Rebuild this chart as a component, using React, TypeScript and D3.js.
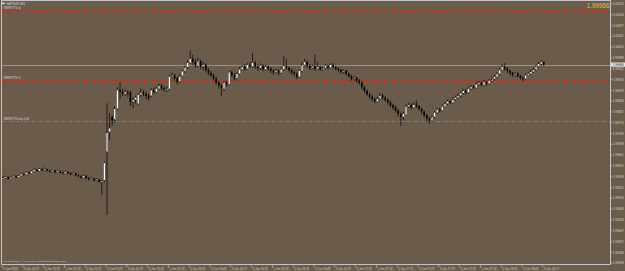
import React from "react";
import * as d3 from "d3";

const symbol = "GBPNZD,M1";
const copyright = "TM MetaTrader 4, \u00a9 2001-2014, MetaQuotes Software Corp.";
const bidPrice = 1.99966;
const orderLabels = ["#88987774 tp", "#88987774 sl", "#88987774 buy 0.02"];
const orderPrices = [2.0015, 1.99913, 1.99776];
const orderTypes = ["tp", "sl", "open"];

const priceLabels = [
  2.0017, 2.00134, 2.00097, 2.00061, 2.00025, 1.99988, 1.99952, 1.99916, 1.99879, 1.99843,
  1.99807, 1.9977, 1.99734, 1.99698, 1.99661, 1.99625, 1.99589, 1.99552, 1.99516, 1.9948,
  1.99443, 1.99407, 1.99371, 1.99334, 1.99298,
];

const timeLabels = [
  "5 Jun 2014", "5 Jun 14:57", "5 Jun 15:05", "5 Jun 15:13", "5 Jun 15:21", "5 Jun 15:29",
  "5 Jun 15:37", "5 Jun 15:45", "5 Jun 15:53", "5 Jun 16:01", "5 Jun 16:09", "5 Jun 16:17",
  "5 Jun 16:25", "5 Jun 16:33", "5 Jun 16:41", "5 Jun 16:49", "5 Jun 16:57", "5 Jun 17:05",
  "5 Jun 17:13", "5 Jun 17:21", "5 Jun 17:29", "5 Jun 17:37", "5 Jun 17:45", "5 Jun 17:53",
  "5 Jun 18:01", "5 Jun 18:09", "5 Jun 18:17",
];
const barsPerTimeLabel = 8;

const opens = [
  1.99582,1.99585,1.99588,1.99582,1.99586,1.99590,1.99587,1.99592,1.99598,1.99596,
  1.99603,1.99600,1.99607,1.99612,1.99608,1.99615,1.99611,1.99614,1.99609,1.99606,
  1.99610,1.99604,1.99608,1.99603,1.99600,1.99605,1.99601,1.99597,1.99600,1.99594,
  1.99590,1.99586,1.99592,1.99584,1.99580,1.99583,1.99577,1.99580,1.99572,1.99577,
  1.99672,1.99740,1.99790,1.99780,1.99818,1.99880,1.99875,1.99868,1.99874,1.99872,
  1.99840,1.99848,1.99835,1.99865,1.99872,1.99866,1.99860,1.99862,1.99880,1.99874,
  1.99885,1.99895,1.99886,1.99882,1.99884,1.99926,1.99930,1.99920,1.99910,1.99928,
  1.99944,1.99958,1.99972,1.99985,1.99975,1.99962,1.99978,1.99960,1.99965,1.99948,
  1.99938,1.99930,1.99918,1.99905,1.99896,1.99885,1.99905,1.99900,1.99940,1.99930,
  1.99920,1.99935,1.99950,1.99958,1.99952,1.99965,1.99960,1.99972,1.99960,1.99955,
  1.99962,1.99950,1.99958,1.99952,1.99945,1.99940,1.99946,1.99938,1.99950,1.99962,
  1.99955,1.99948,1.99940,1.99935,1.99925,1.99945,1.99965,1.99975,1.99962,1.99955,
  1.99960,1.99952,1.99958,1.99950,1.99955,1.99962,1.99956,1.99965,1.99958,1.99952,
  1.99948,1.99942,1.99945,1.99935,1.99928,1.99918,1.99922,1.99912,1.99905,1.99890,
  1.99878,1.99866,1.99858,1.99850,1.99842,1.99850,1.99862,1.99855,1.99848,1.99840,
  1.99830,1.99822,1.99812,1.99800,1.99790,1.99798,1.99825,1.99830,1.99822,1.99832,
  1.99826,1.99818,1.99808,1.99795,1.99785,1.99778,1.99790,1.99805,1.99815,1.99812,
  1.99825,1.99835,1.99842,1.99838,1.99850,1.99855,1.99862,1.99870,1.99878,1.99872,
  1.99885,1.99892,1.99888,1.99900,1.99905,1.99898,1.99908,1.99902,1.99912,1.99918,
  1.99925,1.99935,1.99948,1.99958,1.99952,1.99945,1.99938,1.99932,1.99935,1.99928,
  1.99922,1.99918,1.99930,1.99935,1.99942,1.99948,1.99960,1.99968,1.99975,
];

const highs = [
  1.99590,1.99592,1.99590,1.99589,1.99594,1.99593,1.99596,1.99602,1.99601,1.99607,
  1.99606,1.99610,1.99617,1.99615,1.99619,1.99618,1.99620,1.99616,1.99612,1.99614,
  1.99612,1.99611,1.99610,1.99606,1.99609,1.99607,1.99604,1.99604,1.99602,1.99596,
  1.99593,1.99596,1.99594,1.99587,1.99588,1.99585,1.99584,1.99582,1.99579,1.99640,
  1.99836,1.99803,1.99795,1.99825,1.99890,1.99907,1.99885,1.99882,1.99880,1.99878,
  1.99855,1.99862,1.99870,1.99885,1.99880,1.99875,1.99868,1.99886,1.99888,1.99892,
  1.99902,1.99900,1.99892,1.99893,1.99932,1.99940,1.99935,1.99925,1.99935,1.99950,
  1.99962,1.99980,2.00012,2.00000,1.99985,1.99990,1.99982,1.99975,1.99970,1.99955,
  1.99945,1.99935,1.99925,1.99912,1.99902,1.99910,1.99912,1.99945,1.99948,1.99938,
  1.99940,1.99958,1.99965,1.99968,1.99972,1.99975,2.00005,1.99978,1.99966,1.99970,
  1.99968,1.99966,1.99964,1.99958,1.99950,1.99952,1.99950,1.99958,1.99995,1.99985,
  1.99960,1.99952,1.99946,1.99940,1.99950,1.99975,1.99985,1.99980,1.99968,1.99966,
  2.00000,1.99975,1.99962,1.99960,1.99968,1.99966,1.99972,1.99970,1.99962,1.99956,
  1.99952,1.99950,1.99948,1.99940,1.99932,1.99928,1.99925,1.99918,1.99910,1.99895,
  1.99882,1.99872,1.99865,1.99856,1.99858,1.99870,1.99868,1.99860,1.99852,1.99845,
  1.99835,1.99828,1.99816,1.99805,1.99808,1.99832,1.99838,1.99836,1.99840,1.99845,
  1.99830,1.99822,1.99812,1.99800,1.99790,1.99795,1.99810,1.99820,1.99822,1.99832,
  1.99840,1.99850,1.99848,1.99856,1.99862,1.99868,1.99876,1.99885,1.99884,1.99892,
  1.99898,1.99896,1.99908,1.99912,1.99910,1.99914,1.99912,1.99918,1.99925,1.99932,
  1.99940,1.99955,1.99968,1.99972,1.99958,1.99950,1.99942,1.99940,1.99940,1.99932,
  1.99926,1.99936,1.99940,1.99948,1.99955,1.99965,1.99975,1.99980,1.99978,
];

const lows = [
  1.99579,1.99582,1.99578,1.99579,1.99584,1.99583,1.99585,1.99590,1.99592,1.99594,
  1.99597,1.99598,1.99604,1.99605,1.99606,1.99608,1.99609,1.99606,1.99602,1.99603,
  1.99600,1.99601,1.99599,1.99596,1.99598,1.99597,1.99593,1.99594,1.99590,1.99586,
  1.99582,1.99584,1.99580,1.99576,1.99578,1.99572,1.99574,1.99568,1.99527,1.99570,
  1.99460,1.99712,1.99760,1.99770,1.99812,1.99850,1.99860,1.99862,1.99858,1.99827,
  1.99820,1.99835,1.99830,1.99858,1.99860,1.99850,1.99845,1.99856,1.99868,1.99870,
  1.99880,1.99880,1.99876,1.99874,1.99880,1.99920,1.99912,1.99900,1.99905,1.99925,
  1.99938,1.99952,1.99968,1.99965,1.99955,1.99958,1.99952,1.99948,1.99940,1.99930,
  1.99925,1.99912,1.99898,1.99885,1.99860,1.99878,1.99892,1.99896,1.99925,1.99912,
  1.99915,1.99930,1.99945,1.99946,1.99948,1.99955,1.99955,1.99952,1.99945,1.99948,
  1.99944,1.99946,1.99945,1.99938,1.99932,1.99935,1.99930,1.99935,1.99945,1.99948,
  1.99940,1.99932,1.99925,1.99918,1.99920,1.99940,1.99960,1.99955,1.99948,1.99950,
  1.99946,1.99948,1.99944,1.99945,1.99950,1.99950,1.99952,1.99952,1.99946,1.99942,
  1.99935,1.99936,1.99930,1.99922,1.99912,1.99912,1.99905,1.99898,1.99882,1.99870,
  1.99860,1.99850,1.99842,1.99836,1.99838,1.99846,1.99848,1.99840,1.99832,1.99822,
  1.99815,1.99805,1.99790,1.99760,1.99780,1.99795,1.99820,1.99815,1.99818,1.99820,
  1.99810,1.99800,1.99788,1.99775,1.99766,1.99772,1.99785,1.99800,1.99806,1.99808,
  1.99820,1.99830,1.99832,1.99834,1.99845,1.99850,1.99856,1.99865,1.99866,1.99868,
  1.99880,1.99882,1.99884,1.99895,1.99892,1.99894,1.99896,1.99898,1.99906,1.99912,
  1.99920,1.99930,1.99944,1.99945,1.99938,1.99930,1.99925,1.99926,1.99922,1.99915,
  1.99910,1.99914,1.99926,1.99930,1.99938,1.99944,1.99955,1.99962,1.99962,
];

const closes = [
  1.99585,1.99588,1.99582,1.99586,1.99590,1.99587,1.99592,1.99598,1.99596,1.99603,
  1.99600,1.99607,1.99612,1.99608,1.99615,1.99611,1.99614,1.99609,1.99606,1.99610,
  1.99604,1.99608,1.99603,1.99600,1.99605,1.99601,1.99597,1.99600,1.99594,1.99590,
  1.99586,1.99592,1.99584,1.99580,1.99583,1.99577,1.99580,1.99572,1.99575,1.99635,
  1.99737,1.99752,1.99778,1.99818,1.99880,1.99875,1.99868,1.99874,1.99870,1.99840,
  1.99848,1.99855,1.99865,1.99872,1.99866,1.99860,1.99852,1.99880,1.99874,1.99885,
  1.99895,1.99886,1.99882,1.99886,1.99926,1.99930,1.99920,1.99908,1.99928,1.99944,
  1.99958,1.99972,1.99985,1.99975,1.99962,1.99978,1.99960,1.99965,1.99948,1.99938,
  1.99930,1.99918,1.99905,1.99896,1.99888,1.99905,1.99900,1.99940,1.99930,1.99920,
  1.99935,1.99950,1.99958,1.99952,1.99965,1.99960,1.99972,1.99960,1.99955,1.99962,
  1.99950,1.99958,1.99952,1.99945,1.99940,1.99946,1.99938,1.99950,1.99962,1.99955,
  1.99948,1.99940,1.99935,1.99925,1.99945,1.99965,1.99975,1.99962,1.99955,1.99960,
  1.99952,1.99958,1.99950,1.99955,1.99962,1.99956,1.99965,1.99958,1.99952,1.99948,
  1.99942,1.99945,1.99935,1.99928,1.99918,1.99922,1.99912,1.99905,1.99890,1.99878,
  1.99866,1.99858,1.99850,1.99842,1.99850,1.99862,1.99855,1.99848,1.99840,1.99830,
  1.99822,1.99812,1.99800,1.99790,1.99800,1.99825,1.99830,1.99822,1.99832,1.99826,
  1.99818,1.99808,1.99795,1.99785,1.99778,1.99790,1.99805,1.99815,1.99812,1.99825,
  1.99835,1.99842,1.99838,1.99850,1.99855,1.99862,1.99870,1.99878,1.99872,1.99885,
  1.99892,1.99888,1.99900,1.99905,1.99898,1.99908,1.99902,1.99912,1.99918,1.99925,
  1.99935,1.99948,1.99958,1.99952,1.99945,1.99938,1.99932,1.99935,1.99928,1.99922,
  1.99918,1.99930,1.99935,1.99942,1.99948,1.99960,1.99968,1.99975,1.99966,
];

const W = 625;
const H = 271;
const plotLeft = 1.5;
const plotRight = 610.5;
const plotTop = 0.5;
const plotBottom = 264;
const BG = "#6b5b4a";
const AXIS = "#c4c4c4";
const TEXT = "#d6d6d6";
const FONT = "'Liberation Sans', Arial, sans-serif";

export default function App() {
  const n = closes.length;
  const x = d3.scaleLinear().domain([0, n - 1]).range([3, 543.8]);
  const y = d3.scaleLinear().domain([2.0017, 1.99295]).range([4, 264]);
  const bodyW = 1.6;
  const fmt = d3.format(".5f");

  const lineStyle: Record<string, { color: string; dash: string }> = {
    tp: { color: "#cc2a1e", dash: "3.5,1.5,1,1.5" },
    sl: { color: "#cc2a1e", dash: "3.5,1.5,1,1.5" },
    open: { color: "#5f9a4c", dash: "3.5,1.5,1,1.5" },
  };

  const bidY = Math.round(y(bidPrice)) + 0.5;

  return (
    <svg width={W} height={H} style={{ display: "block" }} fontFamily={FONT}>
      <style>{`body{margin:0;background:${BG}}`}</style>
      <rect x={0} y={0} width={W} height={H} fill={BG} />

      {orderPrices.map((p, i) => {
        const st = lineStyle[orderTypes[i]];
        const yy = Math.round(y(p)) + 0.5;
        return (
          <g key={"ol" + i}>
            <line x1={plotLeft} x2={plotRight} y1={yy} y2={yy} stroke={st.color} strokeWidth={1} strokeDasharray={st.dash} />
            <text x={3} y={yy - 1.6} fontSize={2.9} fill={TEXT}>{orderLabels[i]}</text>
          </g>
        );
      })}

      <line x1={plotLeft} x2={plotRight} y1={bidY} y2={bidY} stroke="#8e929c" strokeWidth={1} />

      {closes.map((c, i) => {
        const o = opens[i];
        const bull = c >= o;
        const cx = x(i);
        const yTop = y(Math.max(o, c));
        const yBot = y(Math.min(o, c));
        const h = Math.max(0.6, yBot - yTop);
        return (
          <g key={"c" + i}>
            <line x1={cx} x2={cx} y1={y(highs[i])} y2={y(lows[i])} stroke="#000" strokeWidth={0.7} />
            <rect x={cx - bodyW / 2} y={yTop} width={bodyW} height={h} fill={bull ? "#ffffff" : "#000000"} stroke={bull ? "#1a1a1a" : "none"} strokeWidth={bull ? 0.25 : 0} />
          </g>
        );
      })}

      <line x1={plotLeft} x2={plotLeft} y1={0} y2={plotBottom} stroke={AXIS} strokeWidth={1} />
      <line x1={plotLeft} x2={plotRight} y1={plotTop} y2={plotTop} stroke={AXIS} strokeWidth={1} />
      <line x1={plotRight} x2={plotRight} y1={0} y2={plotBottom + 0.5} stroke={AXIS} strokeWidth={1} />
      <line x1={plotLeft} x2={plotRight} y1={plotBottom + 0.5} y2={plotBottom + 0.5} stroke={AXIS} strokeWidth={1} />

      {priceLabels.map((p, i) => {
        const yy = y(p);
        return (
          <g key={"pl" + i}>
            <line x1={plotRight} x2={plotRight + 2} y1={yy} y2={yy} stroke={AXIS} strokeWidth={0.6} />
            <text x={612.8} y={yy + 1.1} fontSize={3} fill={TEXT}>{fmt(p)}</text>
          </g>
        );
      })}
      <rect x={611} y={y(bidPrice) - 2.1} width={14} height={4.2} fill="#e6e6e6" />
      <text x={612.8} y={y(bidPrice) + 1.1} fontSize={3} fill="#222">{fmt(bidPrice)}</text>

      {timeLabels.map((t, k) => {
        const tx = x(k * barsPerTimeLabel) - 1;
        return (
          <g key={"tl" + k}>
            <line x1={tx} x2={tx} y1={plotBottom} y2={plotBottom + 3.5} stroke={AXIS} strokeWidth={0.6} />
            <text x={tx + 1.2} y={269.6} fontSize={2.9} fill={TEXT}>{t}</text>
          </g>
        );
      })}

      <rect x={2.2} y={2.6} width={2.4} height={1.6} fill="#f2f2f2" />
      <text x={6} y={4.7} fontSize={3.3} fill={TEXT}>{symbol}</text>
      <text x={609.5} y={8.4} fontSize={6.3} fill="#f0c419" textAnchor="end">{fmt(bidPrice)}</text>

      <text x={3} y={262} fontSize={2.4} fill={TEXT} textLength={64} lengthAdjust="spacingAndGlyphs">{copyright}</text>
    </svg>
  );
}
